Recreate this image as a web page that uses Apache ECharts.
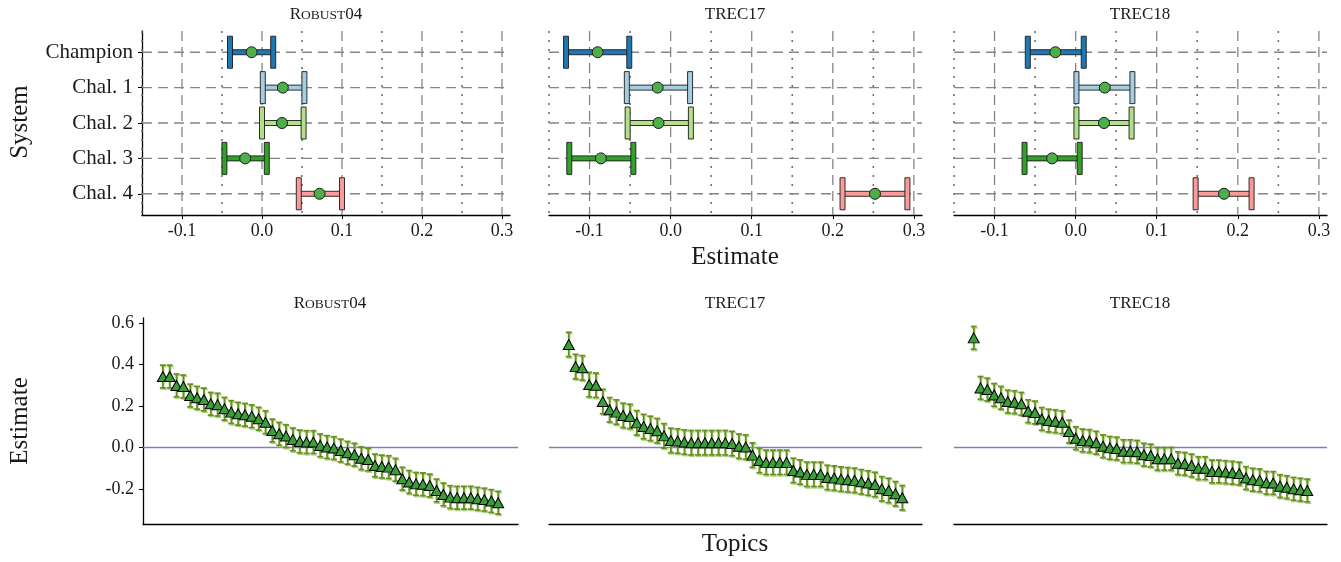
<!DOCTYPE html>
<html>
<head>
<meta charset="utf-8">
<script src="https://cdn.jsdelivr.net/npm/echarts@6/dist/echarts.min.js"></script>
<style>html,body{margin:0;padding:0;background:#fff}#main{width:1341px;height:562px}</style>
</head>
<body>
<div id="main"></div>
<script>
var systems = ['Champion', 'Chal. 1', 'Chal. 2', 'Chal. 3', 'Chal. 4'];
var systemColors = ['#1f78b4', '#a6cee3', '#b2df8a', '#33a02c', '#fb9a99'];
var xTicks = [-0.1, 0, 0.1, 0.2, 0.3];
var xMinor = [-0.15, -0.05, 0.05, 0.15, 0.25];
var yTopicTicks = [-0.2, 0, 0.2, 0.4, 0.6];

// system effects: lower bound, estimate, upper bound
var robustLow = [-0.040, 0.001, 0.000, -0.047, 0.046];
var robustEst = [-0.013, 0.026, 0.025, -0.021, 0.072];
var robustHigh = [0.014, 0.053, 0.052, 0.006, 0.100];
var trec17Low = [-0.129, -0.054, -0.053, -0.125, 0.212];
var trec17Est = [-0.090, -0.016, -0.015, -0.086, 0.252];
var trec17High = [-0.051, 0.024, 0.025, -0.046, 0.292];
var trec18Low = [-0.059, 0.001, 0.001, -0.063, 0.148];
var trec18Est = [-0.025, 0.036, 0.035, -0.029, 0.183];
var trec18High = [0.010, 0.070, 0.069, 0.005, 0.217];

// topic effects (sorted), 50 topics per collection
var robustTopics = [0.343, 0.343, 0.300, 0.295, 0.251, 0.240, 0.232, 0.211, 0.207, 0.187,
  0.171, 0.163, 0.158, 0.151, 0.139, 0.122, 0.082, 0.066, 0.055, 0.039,
  0.029, 0.026, 0.026, 0.010, 0.002, -0.003, -0.015, -0.026, -0.035, -0.052,
  -0.058, -0.087, -0.092, -0.095, -0.108, -0.151, -0.167, -0.176, -0.178, -0.184,
  -0.208, -0.227, -0.240, -0.243, -0.243, -0.243, -0.248, -0.252, -0.259, -0.267];
var trec17Topics = [0.498, 0.391, 0.385, 0.304, 0.301, 0.222, 0.182, 0.171, 0.155, 0.150,
  0.119, 0.101, 0.092, 0.081, 0.056, 0.034, 0.031, 0.026, 0.023, 0.023,
  0.023, 0.023, 0.023, 0.023, 0.019, 0.006, 0.002, -0.037, -0.063, -0.072,
  -0.072, -0.072, -0.072, -0.111, -0.119, -0.130, -0.130, -0.130, -0.145, -0.148,
  -0.153, -0.156, -0.159, -0.166, -0.172, -0.179, -0.200, -0.208, -0.224, -0.243];
var trec18Topics = [0.530, 0.288, 0.280, 0.254, 0.240, 0.222, 0.219, 0.211, 0.175, 0.169,
  0.138, 0.130, 0.127, 0.122, 0.077, 0.045, 0.034, 0.031, 0.023, 0.006,
  -0.002, -0.005, -0.018, -0.018, -0.021, -0.035, -0.039, -0.055, -0.055, -0.055,
  -0.076, -0.079, -0.087, -0.100, -0.100, -0.116, -0.116, -0.119, -0.122, -0.126,
  -0.148, -0.156, -0.159, -0.171, -0.172, -0.187, -0.192, -0.200, -0.204, -0.208];
var topicHalfWidth = [0.055, 0.059, 0.055];

var font = 'Liberation Serif';
var chart = echarts.init(document.getElementById('main'));

var sysData = [
  [robustLow, robustEst, robustHigh],
  [trec17Low, trec17Est, trec17High],
  [trec18Low, trec18Est, trec18High]
];
var topicData = [robustTopics, trec17Topics, trec18Topics];

var topGrids = [
  {left: 142, top: 31, width: 368, height: 184},
  {left: 549, top: 31, width: 373, height: 184},
  {left: 954, top: 31, width: 373, height: 184}
];
var botGrids = [
  {left: 143, top: 318, width: 375, height: 206},
  {left: 549, top: 318, width: 373, height: 206},
  {left: 954, top: 318, width: 373, height: 206}
];

var gridColor = '#858585';

// kind: 0 major vertical (dashed), 1 minor vertical (dotted), 2 horizontal (dashed), 3 zero line
function renderGuide(params, api) {
  var cs = params.coordSys;
  var v = api.value(0), kind = api.value(1);
  var style = kind === 1
    ? {stroke: '#6f6f6f', lineWidth: 1.6, lineDash: [2, 7]}
    : {stroke: gridColor, lineWidth: 1.3, lineDash: [10, 6]};
  if (kind >= 2) {
    var p = api.coord([api.value(2), v]);
    if (kind === 3) style = {stroke: '#7f7fc0', lineWidth: 1.5};
    return {type: 'line', shape: {x1: cs.x, y1: p[1], x2: cs.x + cs.width, y2: p[1]}, style: style};
  }
  var q = api.coord([v, api.value(2)]);
  return {type: 'line', shape: {x1: q[0], y1: cs.y, x2: q[0], y2: cs.y + cs.height}, style: style};
}

function renderSystemBar(params, api) {
  var y = api.value(0);
  var p1 = api.coord([api.value(1), y]);
  var p2 = api.coord([api.value(2), y]);
  var style = {fill: systemColors[params.dataIndex], stroke: '#1a1a1a', lineWidth: 0.9};
  return {
    type: 'group',
    children: [
      {type: 'rect', shape: {x: p1[0], y: p1[1] - 2.5, width: p2[0] - p1[0], height: 5}, style: style},
      {type: 'rect', shape: {x: p1[0] - 2.5, y: p1[1] - 16, width: 5, height: 32}, style: style},
      {type: 'rect', shape: {x: p2[0] - 2.5, y: p2[1] - 16, width: 5, height: 32}, style: style}
    ]
  };
}

function renderTopicBar(params, api) {
  var x = api.value(0);
  var a = api.coord([x, api.value(2)]);
  var b = api.coord([x, api.value(1)]);
  var w = 3;
  function ibeam(dx, dy, color, lw) {
    var st = {stroke: color, lineWidth: lw};
    return [
      {type: 'line', shape: {x1: a[0] + dx, y1: a[1] + dy, x2: b[0] + dx, y2: b[1] + dy}, style: st},
      {type: 'line', shape: {x1: a[0] + dx - w, y1: a[1] + dy, x2: a[0] + dx + w, y2: a[1] + dy}, style: st},
      {type: 'line', shape: {x1: b[0] + dx - w, y1: b[1] + dy, x2: b[0] + dx + w, y2: b[1] + dy}, style: st}
    ];
  }
  return {type: 'group', children: ibeam(1, 1.5, '#a9d37c', 1.3).concat(ibeam(0, 0, '#6b8e23', 1.8))};
}

var grids = topGrids.concat(botGrids);
var xAxes = [], yAxes = [], series = [];

for (var i = 0; i < 3; i++) {
  xAxes.push({
    gridIndex: i, type: 'value', min: -0.15, max: 0.31,
    splitLine: {show: false},
    axisLine: {show: true, onZero: false, lineStyle: {color: '#000', width: 1.3}},
    axisTick: {show: true, customValues: xTicks, length: 4, lineStyle: {color: '#000'}},
    axisLabel: {customValues: xTicks, formatter: function (v) { return v.toFixed(1); },
      fontFamily: font, fontSize: 18, color: '#1a1a1a', margin: 7}
  });
  yAxes.push({
    gridIndex: i, type: 'value', inverse: true, min: 0.4, max: 5.6,
    splitLine: {show: false},
    axisLine: {show: i === 0, onZero: false, lineStyle: {color: '#000', width: 1.3}},
    axisTick: {show: i === 0, customValues: [1, 2, 3, 4, 5], length: 4, lineStyle: {color: '#000'}},
    axisLabel: {show: i === 0, customValues: [1, 2, 3, 4, 5],
      formatter: function (v) { return systems[Math.round(v) - 1]; },
      fontFamily: font, fontSize: 21, color: '#1a1a1a', margin: 9}
  });

  var guides = [];
  xMinor.forEach(function (v) { guides.push([v, 1, 1]); });
  xTicks.forEach(function (v) { guides.push([v, 0, 1]); });
  [1, 2, 3, 4, 5].forEach(function (v) { guides.push([v, 2, 0]); });
  series.push({
    type: 'custom', xAxisIndex: i, yAxisIndex: i, z: 1, silent: true,
    renderItem: renderGuide, data: guides
  });

  var d = sysData[i];
  series.push({
    type: 'custom', xAxisIndex: i, yAxisIndex: i, z: 3,
    renderItem: renderSystemBar,
    encode: {x: [1, 2], y: 0},
    data: systems.map(function (s, k) { return [k + 1, d[0][k], d[2][k]]; })
  });
  series.push({
    type: 'scatter', xAxisIndex: i, yAxisIndex: i, z: 4,
    symbolSize: 11,
    itemStyle: {color: '#4daf4a', borderColor: '#1a1a1a', borderWidth: 1, opacity: 1},
    data: systems.map(function (s, k) { return [d[1][k], k + 1]; })
  });
}

for (var j = 0; j < 3; j++) {
  var g = 3 + j;
  xAxes.push({
    gridIndex: g, type: 'value', min: -1.9, max: 52.9,
    splitLine: {show: false},
    axisLine: {show: true, onZero: false, lineStyle: {color: '#000', width: 1.3}},
    axisTick: {show: false}, axisLabel: {show: false}
  });
  yAxes.push({
    gridIndex: g, type: 'value', min: -0.37, max: 0.626,
    splitLine: {show: false},
    axisLine: {show: j === 0, onZero: false, lineStyle: {color: '#000', width: 1.3}},
    axisTick: {show: j === 0, customValues: yTopicTicks, length: 4, lineStyle: {color: '#000'}},
    axisLabel: {show: j === 0, customValues: yTopicTicks,
      formatter: function (v) { return v.toFixed(1); },
      fontFamily: font, fontSize: 18, color: '#1a1a1a', margin: 9}
  });
  series.push({
    type: 'custom', xAxisIndex: g, yAxisIndex: g, z: 1, silent: true,
    renderItem: renderGuide, data: [[0, 3, 1]]
  });
  var t = topicData[j], h = topicHalfWidth[j];
  series.push({
    type: 'custom', xAxisIndex: g, yAxisIndex: g, z: 3,
    renderItem: renderTopicBar,
    encode: {x: 0, y: [1, 2]},
    data: t.map(function (e, k) { return [k + 1, e - h, e + h]; })
  });
  series.push({
    type: 'scatter', xAxisIndex: g, yAxisIndex: g, z: 4,
    symbol: 'triangle', symbolSize: [11, 10],
    itemStyle: {color: '#3a9e3a', borderColor: '#000', borderWidth: 1, opacity: 1},
    data: t.map(function (e, k) { return [k + 1, e]; })
  });
}

function facetTitle(x, y, name) {
  var rich = {
    a: {fontFamily: font, fontSize: 17, fill: '#1a1a1a'},
    b: {fontFamily: font, fontSize: 13.5, fill: '#1a1a1a'}
  };
  var text = name === 'Robust04' ? '{a|R}{b|OBUST}{a|04}' : '{a|' + name + '}';
  return {type: 'text', x: x, y: y, style: {text: text, rich: rich, align: 'center', verticalAlign: 'middle'}};
}

function axisTitle(x, y, text, rotate) {
  return {type: 'text', x: x, y: y, rotation: rotate ? Math.PI / 2 : 0,
    style: {text: text, fontFamily: font, fontSize: 25, fill: '#1a1a1a', align: 'center', verticalAlign: 'middle'}};
}

var graphics = [
  facetTitle(326, 15, 'Robust04'), facetTitle(735, 15, 'TREC17'), facetTitle(1140, 15, 'TREC18'),
  facetTitle(330, 304, 'Robust04'), facetTitle(735, 304, 'TREC17'), facetTitle(1140, 304, 'TREC18'),
  axisTitle(20, 122, 'System', true),
  axisTitle(735, 257, 'Estimate', false),
  axisTitle(20, 421, 'Estimate', true),
  axisTitle(735, 544, 'Topics', false)
];

chart.setOption({
  animation: false,
  backgroundColor: '#fff',
  grid: grids,
  xAxis: xAxes,
  yAxis: yAxes,
  series: series,
  graphic: graphics
});
</script>
</body>
</html>
